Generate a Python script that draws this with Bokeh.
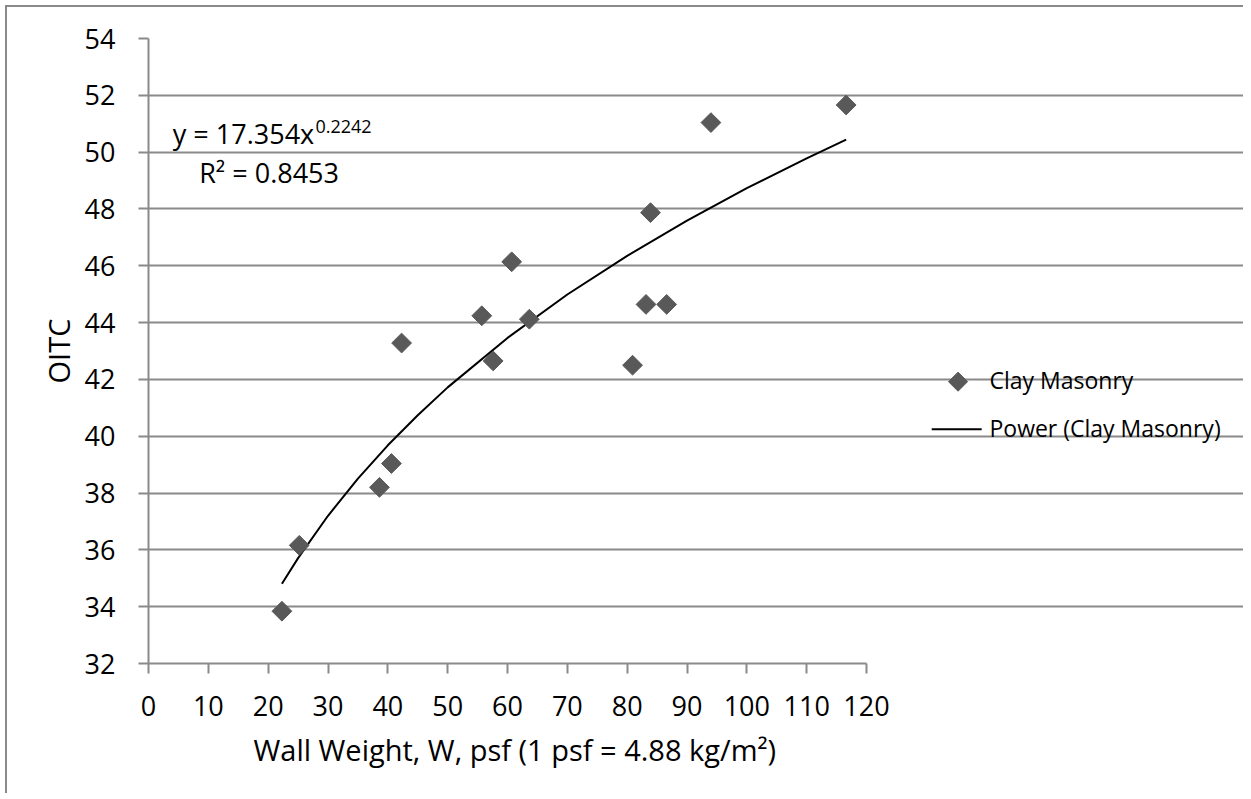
from bokeh.plotting import figure
from bokeh.models import Range1d, FixedTicker, Label, Title
from bokeh.core.properties import value
from bokeh.embed import file_html
from bokeh.resources import INLINE

# ---- data ----
wall_weight = [22.3, 25.2, 38.6, 40.6, 42.3, 55.7, 57.6, 60.7, 63.65, 80.9, 83.15, 83.9, 86.6, 94.0, 116.6]
oitc = [33.84, 36.16, 38.2, 39.04, 43.28, 44.24, 42.65, 46.14, 44.12, 42.5, 44.64, 47.87, 44.64, 51.04, 51.66]

# power trend line (Clay Masonry)
trend_x = [22.3, 25, 30, 35, 40, 45, 50, 60, 70, 80, 90, 100, 110, 116.6]
trend_y = [34.81, 35.71, 37.20, 38.51, 39.68, 40.74, 41.72, 43.46, 44.99, 46.35, 47.59, 48.73, 49.78, 50.44]

x_ticks = [0, 10, 20, 30, 40, 50, 60, 70, 80, 90, 100, 110, 120]
y_ticks = [32, 34, 36, 38, 40, 42, 44, 46, 48, 50, 52, 54]
x_min, x_max = 0, 120
y_min, y_max = 32, 54

eq_text = "y = 17.354x"
eq_exp = "0.2242"
r2_text = "R\u00b2 = 0.8453"
x_title = "Wall Weight, W, psf (1 psf = 4.88 kg/m\u00b2)"
y_title = "OITC"
series_name = "Clay Masonry"
trend_name = "Power (Clay Masonry)"

# ---- layout / style ----
FONT = "Open Sans"
GRID = "#8a8a8a"
MARK = "#595959"
AXIS_PX = 718          # pixel length of the 0..120 axis
FRAME_W = 1095         # frame also hosts the legend area on the right
FRAME_H = 625
x_end = x_max * FRAME_W / AXIS_PX

p = figure(frame_width=FRAME_W, frame_height=FRAME_H, output_backend="svg", toolbar_location=None,
           x_range=Range1d(x_min, x_end), y_range=Range1d(y_min, y_max),
           min_border_left=148, min_border_right=0, min_border_top=38, min_border_bottom=130)
p.outline_line_color = None
p.background_fill_color = "white"
p.border_fill_alpha = 0
p.styles = {
    "background-color": "white",
    "background-image": "linear-gradient(#8a8a8a, #8a8a8a), linear-gradient(#8a8a8a, #8a8a8a)",
    "background-size": "2px calc(100% - 5px), calc(100% - 5px) 2px",
    "background-position": "5px 5px, 5px 5px",
    "background-repeat": "no-repeat",
}

# axes
for ax in (p.xaxis[0], p.yaxis[0]):
    ax.axis_line_color = GRID
    ax.axis_line_width = 2
    ax.major_tick_line_color = GRID
    ax.major_tick_line_width = 2
    ax.major_tick_in = 0
    ax.major_tick_out = 10
    ax.minor_tick_line_color = None
    ax.major_label_text_font = FONT
    ax.major_label_text_font_size = "27px"
    ax.major_label_text_color = "black"
    ax.axis_label_text_font = FONT
    ax.axis_label_text_font_size = "29px"
    ax.axis_label_text_font_style = "normal"
    ax.axis_label_text_color = "black"

p.xaxis.ticker = FixedTicker(ticks=x_ticks)
p.yaxis.ticker = FixedTicker(ticks=y_ticks)
p.xaxis.bounds = (x_min, x_max)
p.yaxis.axis_label = y_title
p.xaxis.major_label_standoff = 22
p.yaxis.major_label_standoff = 23
p.yaxis.axis_label_standoff = 4

# x-axis title, centred under the 0..120 axis (left-aligned with offset from the frame's left edge)
p.add_layout(Title(text=x_title, align="left", offset=105, standoff=22, vertical_align="top",
                   text_font=FONT, text_font_size="29px", text_font_style="normal",
                   text_color="black"), "below")

p.xgrid.grid_line_color = None
p.ygrid.ticker = FixedTicker(ticks=y_ticks)
p.ygrid.bounds = (x_min, x_max)
p.ygrid.grid_line_color = GRID
p.ygrid.grid_line_width = 2

# glyphs
p.line(trend_x, trend_y, line_color="black", line_width=2)
p.scatter(wall_weight, oitc, marker="square", angle=0.785398, size=14,
          fill_color=MARK, line_color=MARK, line_width=1)

# equation labels
p.add_layout(Label(x=27.7, y=50.67, text=eq_text, text_align="right", text_baseline="alphabetic",
                   text_font=FONT, text_font_size="27px", text_color="black"))
p.add_layout(Label(x=27.9, y=50.89, text=eq_exp, text_align="left", text_baseline="alphabetic",
                   text_font=FONT, text_font_size="18px", text_color="black"))
p.add_layout(Label(x=8.47, y=49.3, text=r2_text, text_align="left", text_baseline="alphabetic",
                   text_font=FONT, text_font_size="27px", text_color="black"))

# legend (drawn in the frame's right-hand area)
p.scatter([135.3], [41.92], marker="square", angle=0.785398, size=13.5,
          fill_color=MARK, line_color=MARK, line_width=1)
p.line([130.9, 139.25], [40.25, 40.25], line_color="black", line_width=2)
p.text([140.55, 140.55], [41.99, 40.29], text=[series_name, trend_name],
       text_align="left", text_baseline="alphabetic",
       text_font=value(FONT), text_font_size="23px", text_color="black")

open("out.html", "w").write(file_html(p, INLINE))
